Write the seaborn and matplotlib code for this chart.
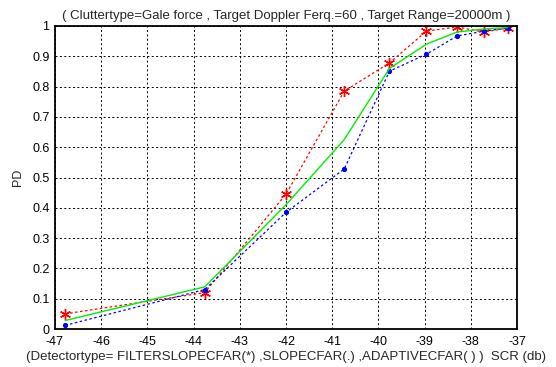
import matplotlib
matplotlib.use("Agg")
import matplotlib.pyplot as plt
import seaborn as sns
import pandas as pd

scr = [-46.78, -43.76, -42.0, -40.74, -39.76, -38.96, -38.3, -37.72, -37.2]
pd_filterslope = [0.05, 0.12, 0.445, 0.785, 0.878, 0.983, 0.997, 0.98, 0.993]
pd_slope = [0.012, 0.13, 0.385, 0.528, 0.851, 0.907, 0.967, 0.983, 0.993]
pd_adaptive = [0.028, 0.139, 0.41, 0.625, 0.86, 0.94, 0.98, 0.99, 0.995]

xticks = list(range(-47, -36))
yticks = [0, 0.1, 0.2, 0.3, 0.4, 0.5, 0.6, 0.7, 0.8, 0.9, 1]
ytick_labels = ["0", "0.1", "0.2", "0.3", "0.4", "0.5", "0.6", "0.7", "0.8", "0.9", "1"]

title = "( Cluttertype=Gale force , Target Doppler Ferq.=60 , Target Range=20000m )"
xlabel = "(Detectortype= FILTERSLOPECFAR(*) ,SLOPECFAR(.) ,ADAPTIVECFAR( ) )  SCR (db)"
ylabel = "PD"

sns.set_style("white")
plt.rcParams["font.family"] = ["Liberation Sans", "DejaVu Sans"]

df = pd.DataFrame({"scr": scr, "fs": pd_filterslope, "s": pd_slope, "a": pd_adaptive})

fig = plt.figure(figsize=(5.56, 3.67), dpi=100)
ax = fig.add_axes([55/556, 1 - 329/367, (517 - 55)/556, (329 - 26)/367])

sns.lineplot(data=df, x="scr", y="fs", ax=ax, color="red", linestyle=(0, (2, 2)),
             linewidth=0.9, marker=(6, 2, 0), markersize=8, markeredgecolor="red",
             markeredgewidth=1.0, sort=False)
sns.lineplot(data=df, x="scr", y="s", ax=ax, color="blue", linestyle=(0, (2, 2)),
             linewidth=0.9, marker="o", markersize=3, markeredgecolor="blue",
             markerfacecolor="blue", sort=False)
sns.lineplot(data=df, x="scr", y="a", ax=ax, color="#00ee00", linewidth=1.0, sort=False)

ax.set_xlim(-47, -37)
ax.set_ylim(0, 1)
ax.set_xticks(xticks)
ax.set_xticklabels([str(t) for t in xticks], fontsize=9)
ax.set_yticks(yticks)
ax.set_yticklabels(ytick_labels, fontsize=9)
ax.grid(True, color="black", linestyle=(0, (2, 2.5)), linewidth=0.7)
ax.tick_params(direction="in", length=3, width=0.8, colors="black")
ax.tick_params(axis="x", pad=5)
ax.tick_params(axis="y", pad=4)
for sp in ax.spines.values():
    sp.set_color("black")
    sp.set_linewidth(1.3)
ax.set_title(title, fontsize=9.5, pad=5)
ax.set_xlabel(xlabel, fontsize=9.5, labelpad=2)
ax.set_ylabel(ylabel, fontsize=9, labelpad=6)

fig.savefig("out.png", dpi=100)
